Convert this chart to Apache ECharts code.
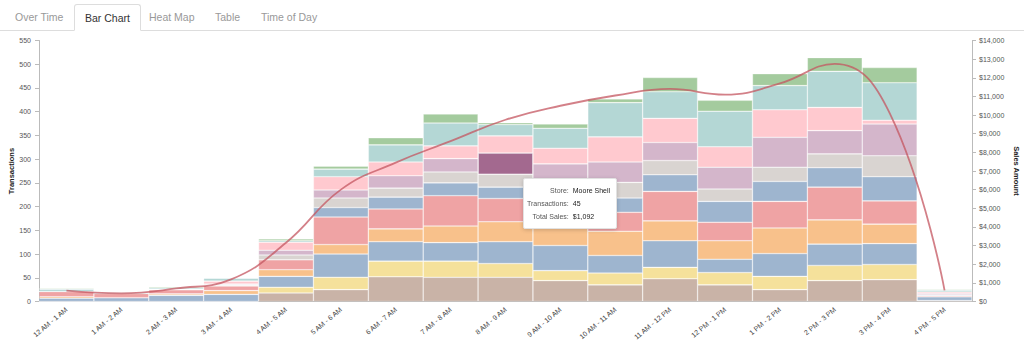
<!DOCTYPE html>
<html>
<head>
<meta charset="utf-8">
<script src="https://cdn.jsdelivr.net/npm/echarts@6/dist/echarts.min.js"></script>
<style>
  html, body { margin: 0; padding: 0; background: #fff; width: 1024px; height: 341px; overflow: hidden;
               font-family: "Liberation Sans", Arial, Helvetica, sans-serif; }
  #chart { position: absolute; left: 0; top: 0; width: 1024px; height: 341px; }
  #tabs { position: absolute; left: 0; top: 0; width: 1024px; height: 30px; border-bottom: 1px solid #ddd; }
  .tab { position: absolute; top: 4px; height: 26px; line-height: 27px; font-size: 10.5px; color: #999;
         box-sizing: border-box; padding: 0 11px; white-space: nowrap; }
  .tab.active { color: #333; background: #fff; border: 1px solid #ddd; border-bottom: 1px solid #fff;
                border-radius: 3px 3px 0 0; height: 27px; padding: 0 10px; }
</style>
</head>
<body>
<div id="chart"></div>
<div id="tabs">
  <div class="tab" style="left:4px">Over Time</div>
  <div class="tab active" style="left:74px">Bar Chart</div>
  <div class="tab" style="left:138px">Heat Map</div>
  <div class="tab" style="left:204px">Table</div>
  <div class="tab" style="left:250px">Time of Day</div>
</div>
<script>
// Hourly buckets shown on the x axis
const hours = ['12 AM - 1 AM', '1 AM - 2 AM', '2 AM - 3 AM', '3 AM - 4 AM', '4 AM - 5 AM', '5 AM - 6 AM',
  '6 AM - 7 AM', '7 AM - 8 AM', '8 AM - 9 AM', '9 AM - 10 AM', '10 AM - 11 AM', '11 AM - 12 PM',
  '12 PM - 1 PM', '1 PM - 2 PM', '2 PM - 3 PM', '3 PM - 4 PM', '4 PM - 5 PM'];

// Transactions per store, stacked bottom to top
const storeNames = ['Baker Street', 'Yates Corner', 'Bluff Road', 'Orchard Mart', 'Ridge Stop',
  'Bay Station', 'Granite Fuel', 'Moore Shell', 'Pine Valley', 'Tidewater', 'Greenfield'];
const brownTx  = [0, 0, 0, 0, 18, 25, 52, 51, 51, 44, 35, 48, 35, 25, 44, 46, 2];
const yellowTx = [0, 0, 0, 0, 12, 26, 33, 34, 29, 21, 25, 24, 26, 28, 32, 32, 0];
const blueTx   = [7, 8, 13, 15, 23, 49, 41, 39, 46, 53, 37, 56, 28, 48, 45, 44, 8];
const orangeTx = [3, 0, 3, 8, 14, 20, 27, 35, 42, 37, 51, 42, 39, 54, 51, 41, 0];
const redTx    = [11, 9, 9, 10, 21, 58, 42, 64, 49, 46, 40, 62, 39, 56, 69, 49, 2];
const blue2Tx  = [0, 0, 0, 0, 0, 20, 25, 27, 24, 26, 30, 35, 44, 42, 41, 51, 2];
const grayTx   = [0, 0, 0, 2, 10, 20, 19, 23, 27, 24, 33, 30, 26, 30, 29, 44, 0];
const purpleTx = [0, 0, 0, 2, 10, 17, 26, 28, 45, 39, 43, 38, 46, 63, 49, 67, 3];
const pinkTx   = [0, 0, 1, 6, 17, 28, 29, 27, 36, 33, 53, 51, 43, 58, 49, 8, 3];
const tealTx   = [5, 2, 3, 6, 3, 16, 36, 48, 24, 42, 72, 56, 75, 51, 76, 79, 4];
const greenTx  = [2, 0, 2, 1, 4, 6, 15, 19, 4, 9, 8, 30, 23, 25, 29, 32, 2];

// Total sales amount per hour (right axis)
const salesAmount = [580, 440, 700, 1190, 3150, 6000, 7450, 8600, 9750, 10500, 11050,
  11400, 11100, 11700, 12750, 10100, 600];

// Axis tick settings
const txMax = 550, txStep = 50;
const salesMax = 14000, salesStep = 1000;

// The store segment whose details are shown in the tooltip
const focus = { series: 7, hour: 8, sales: 1092 };

const stackValues = [brownTx, yellowTx, blueTx, orangeTx, redTx, blue2Tx, grayTx, purpleTx, pinkTx, tealTx, greenTx];
const stackColors = ['#9c755f', '#edc948', '#4e79a7', '#f28e2b', '#e15759', '#4e79a7',
  '#bab0ac', '#b07aa1', '#ff9da7', '#76b7b2', '#59a14f'];

const font = '"Liberation Sans", Arial, Helvetica, sans-serif';

const barSeries = stackValues.map((vals, i) => ({
  name: storeNames[i],
  type: 'bar',
  stack: 'tx',
  barWidth: '100%',
  barCategoryGap: 0,
  itemStyle: { color: stackColors[i], opacity: 0.55, borderColor: 'rgba(255,255,255,0.9)', borderWidth: 0.6 },
  data: vals.map((v, h) => (i === focus.series && h === focus.hour)
    ? { value: v, itemStyle: { color: '#a3698f', opacity: 1 } }
    : v)
}));

const chart = echarts.init(document.getElementById('chart'), null, { renderer: 'svg' });

chart.setOption({
  animation: false,
  textStyle: { fontFamily: font },
  grid: { left: 39, right: 52, top: 40.5, bottom: 39.5, containLabel: false, outerBoundsMode: 'none' },
  tooltip: {
    trigger: 'item',
    triggerOn: 'none',
    alwaysShowContent: true,
    transitionDuration: 0,
    position: [523, 178],
    backgroundColor: '#fff',
    borderColor: '#e2e2e2',
    borderWidth: 1,
    padding: [5, 6, 5, 3],
    extraCssText: 'box-shadow:0 1px 4px rgba(0,0,0,0.18);border-radius:2px;',
    formatter: p => {
      const sales = '$' + focus.sales.toLocaleString('en-US');
      const row = (k, v) => '<tr><td style="text-align:right;color:#555;padding:0 4px 0 0">' + k +
        '</td><td style="color:#222;padding:0">' + v + '</td></tr>';
      return '<table style="border-collapse:collapse;font-size:7px;line-height:13px;font-family:' +
        font.replace(/"/g, "'") + '">' +
        row('Store:', p.seriesName) + row('Transactions:', p.value) + row('Total Sales:', sales) + '</table>';
    }
  },
  xAxis: {
    type: 'category',
    data: hours,
    axisLine: { lineStyle: { color: '#bbb' } },
    axisTick: { alignWithLabel: true, length: 4, lineStyle: { color: '#bbb' } },
    axisLabel: { rotate: 40, interval: 0, fontSize: 7, color: '#444', margin: 7 }
  },
  yAxis: [
    {
      type: 'value', min: 0, max: txMax, interval: txStep,
      name: 'Transactions', nameLocation: 'middle', nameGap: 24, nameRotate: 90,
      nameMoveOverlap: false,
      nameTextStyle: { fontSize: 7.5, fontWeight: 'bold', color: '#222' },
      axisLine: { show: true, lineStyle: { color: '#bbb' } },
      axisTick: { show: true, length: 4, lineStyle: { color: '#bbb' } },
      axisLabel: { fontSize: 7, color: '#555', margin: 8 },
      splitLine: { show: false }
    },
    {
      type: 'value', min: 0, max: salesMax, interval: salesStep,
      name: 'Sales Amount', nameLocation: 'middle', nameGap: 40, nameRotate: -90,
      nameMoveOverlap: false,
      nameTextStyle: { fontSize: 7.5, fontWeight: 'bold', color: '#222' },
      axisLine: { show: true, lineStyle: { color: '#bbb' } },
      axisTick: { show: true, length: 4, lineStyle: { color: '#bbb' } },
      axisLabel: { fontSize: 7, color: '#555', margin: 7,
        formatter: v => '$' + v.toLocaleString('en-US') },
      splitLine: { show: false }
    }
  ],
  series: barSeries.concat([{
    name: 'Sales Amount',
    type: 'line',
    yAxisIndex: 1,
    data: salesAmount,
    smooth: 0.45,
    showSymbol: false,
    z: 5,
    lineStyle: { color: 'rgba(196,86,96,0.75)', width: 1.8 }
  }])
});

chart.dispatchAction({ type: 'showTip', seriesIndex: focus.series, dataIndex: focus.hour });
</script>
</body>
</html>
